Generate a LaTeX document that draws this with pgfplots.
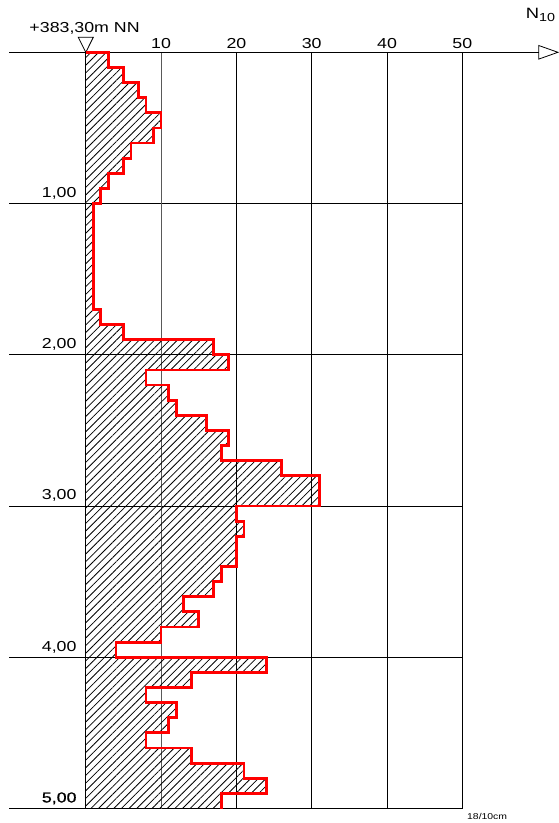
\documentclass[border=0pt]{standalone}
\usepackage{fontspec}
\setmainfont[FakeStretch=1.23]{Liberation Sans}
\newfontfamily\fakebold[FakeStretch=1.23, FakeBold=0.7]{Liberation Sans}
\usepackage{pgfplots}
\pgfplotsset{compat=1.18}
\usepackage{pgfplotstable}
\usetikzlibrary{patterns.meta}

% N10 per 10 cm, depth = top of each interval
\pgfplotstableread{
n depth
0 0.0
3 0.0
5 0.1
7 0.2
8 0.3
10 0.4
9 0.5
6 0.6
5 0.7
3 0.8
2 0.9
1 1.0
1 1.1
1 1.2
1 1.3
1 1.4
1 1.5
1 1.6
2 1.7
5 1.8
17 1.9
19 2.0
8 2.1
11 2.2
12 2.3
16 2.4
19 2.5
18 2.6
26 2.7
31 2.8
31 2.9
20 3.0
21 3.1
20 3.2
20 3.3
18 3.4
17 3.5
13 3.6
15 3.7
10 3.8
4 3.9
24 4.0
14 4.1
8 4.2
12 4.3
11 4.4
8 4.5
14 4.6
21 4.7
24 4.8
18 4.9
18 5.0
}\sondierung

\begin{document}
\begin{tikzpicture}
\begin{axis}[
  x=7.53bp, y=151.24bp, y dir=reverse,
  xmin=-10.16, xmax=50, ymin=0, ymax=5,
  clip=false,
  axis line style={draw=none},
  major tick length=0pt,
  xticklabel pos=upper,
  xtick={0,20,30,40,50}, xticklabels={,20,30,40,50},
  extra x ticks={10}, extra x tick labels={10},
  extra x tick style={grid=major, major grid style={black!65, line width=0.9bp}},
  ytick={1,2,3,4,5},
  yticklabels={{1,00},{2,00},{3,00},{4,00},{\fakebold 5,00}},
  grid=major, major grid style={black, line width=0.8bp},
  xticklabel style={font=\fontsize{14.5}{16}\selectfont, anchor=south, inner sep=0pt, yshift=3bp},
  yticklabel style={font=\fontsize{14.5}{16}\selectfont, anchor=south east, inner sep=0pt, xshift=67.4bp, yshift=4bp},
]
% hatched area
\addplot[draw=none, pattern={Lines[angle=45, distance=5.4bp, line width=0.8bp]},
  const plot mark right] table[x=n, y=depth] {\sondierung} -- (axis cs:0,5) -- cycle;

% top line with arrow and level marker
\draw[line width=0.8bp] (axis cs:-10.16,0) -- (axis cs:60.15,0);
\draw[line width=0.8bp] (axis cs:60.15,-0.045) -- (axis cs:62.7,0) -- (axis cs:60.15,0.045) -- cycle;
\draw[line width=0.8bp] (axis cs:0,0) -- (axis cs:-0.996,-0.0992) -- (axis cs:0.996,-0.0992) -- cycle;

% step line
\addplot[red, line width=2.8bp, const plot mark right] table[x=n, y=depth] {\sondierung};

\node[anchor=base west, inner sep=0pt, font=\fontsize{14.5}{16}\selectfont]
  at (axis cs:-7.503,-0.1296) {+383,30m NN};
\node[anchor=base west, inner sep=0pt, font=\fontsize{15}{16}\selectfont]
  at (axis cs:58.42,-0.2202) {N\raisebox{-2.7bp}{\fontsize{11.7}{12}\selectfont 10}};
\node[anchor=base west, inner sep=0pt, font=\fontsize{8.5}{10}\selectfont]
  at (axis cs:50.62,5.0695) {18/10cm};

\path (axis cs:-11.394,-0.3458) rectangle (axis cs:62.84,5.0959);
\end{axis}
\end{tikzpicture}
\end{document}
